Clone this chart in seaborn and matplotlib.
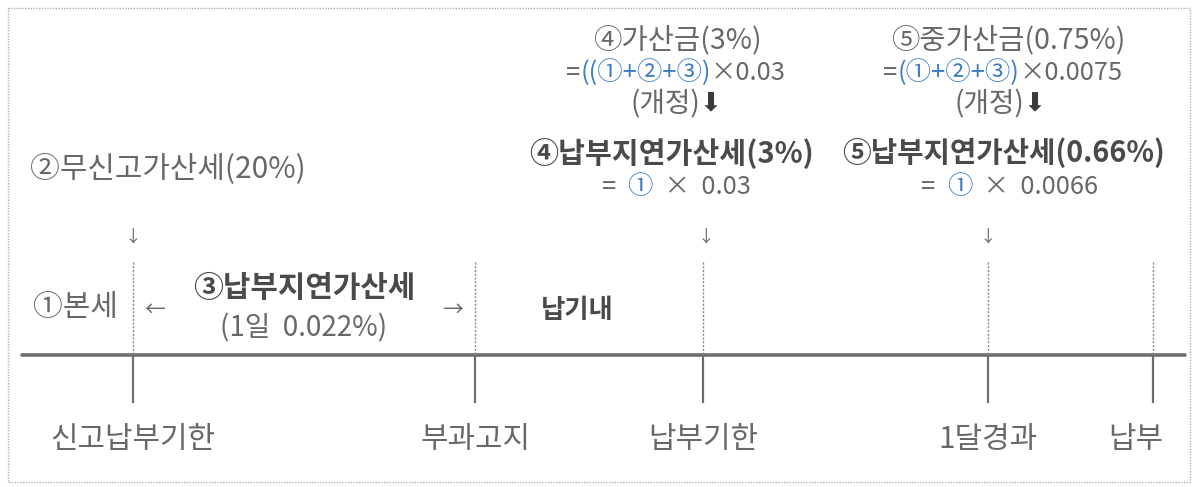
import matplotlib
matplotlib.use("Agg")
import matplotlib.pyplot as plt
import seaborn as sns
import pandas as pd
from matplotlib.patches import Rectangle

sns.set_theme(style="white")
plt.rcParams['font.family'] = ['Noto Sans CJK KR', 'DejaVu Sans']

# ---- data ----
milestone_labels = ['신고납부기한', '부과고지', '납부기한', '1달경과', '납부']
milestone_pos = [133, 475, 703, 988, 1153]
arrow_marks = [133, 706, 988]

top_left_title = '②무신고가산세(20%)'
base_tax = '①본세'
period_title = '③납부지연가산세'
period_rate = '(1일  0.022%)'
in_term = '납기내'

old4_title = '④가산금(3%)'
old4_formula = [('=', 'g'), ('((①+②+③)', 'b'), ('×0.03', 'g')]
new4_title = '④납부지연가산세(3%)'
new4_formula = [('=  ', 'g'), ('①', 'b'), ('  ×  0.03', 'g')]

old5_title = '⑤중가산금(0.75%)'
old5_formula = [('=', 'g'), ('(①+②+③)', 'b'), ('×0.0075', 'g')]
new5_title = '⑤납부지연가산세(0.66%)'
new5_formula = [('=  ', 'g'), ('①', 'b'), ('  ×  0.0066', 'g')]
revised = '(개정)'

# ---- style ----
GRAY = '#686868'
DARK = '#4a4a4a'
BLUE = '#3d7cc4'
LINE = '#6e6e6e'
col = {'g': GRAY, 'b': BLUE}

W, H = 1197, 487
fig = plt.figure(figsize=(W / 100, H / 100), dpi=100)
ax = fig.add_axes([0, 0, 1, 1])

# main timeline
line_df = pd.DataFrame({'x': [milestone_pos[0] - 111, milestone_pos[-1] + 32],
                        'y': [355, 355]})
sns.lineplot(data=line_df, x='x', y='y', ax=ax, color=LINE, lw=2.6)
ax.set_xlim(0, W)
ax.set_ylim(H, 0)
ax.axis('off')

# outer dotted frame
ax.add_patch(Rectangle((8, 8), 1182, 474, fill=False, ec='#b0b0b0',
                       lw=1.0, ls=(0, (1, 1))))

# ticks below & dotted lines above
ax.vlines(milestone_pos, 355, 403, color=LINE, lw=1.6)
ax.vlines(milestone_pos, 262, 354, color='#888888', lw=1.0, ls=(0, (1.5, 1.2)))

for x, lab in zip(milestone_pos, milestone_labels):
    xx = x if lab != '납부' else x - 17
    ax.text(xx, 440, lab, ha='center', va='center', fontsize=21.5, color=GRAY)

for x in arrow_marks:
    ax.text(x, 237, '↓', ha='center', va='center', fontsize=12, color=GRAY)

# left texts
ax.text(30, 170, top_left_title, ha='left', va='center', fontsize=21.5, color=GRAY)
ax.text(33, 307, base_tax, ha='left', va='center', fontsize=21.5, color=GRAY)
ax.text(155, 310, '←', ha='center', va='center', fontsize=15, color=GRAY)
ax.text(453, 310, '→', ha='center', va='center', fontsize=15, color=GRAY)
ax.text(304, 288, period_title, ha='center', va='center', fontsize=21.5,
        fontweight='bold', color=DARK)
ax.text(304, 328, period_rate, ha='center', va='center', fontsize=20, color=GRAY)
ax.text(577, 310, in_term, ha='center', va='center', fontsize=19,
        fontweight='bold', color=DARK)

renderer = fig.canvas.get_renderer()


def multicolor(cx, cy, pieces, fs):
    objs = []
    widths = []
    for s, c in pieces:
        t = ax.text(0, cy, s, ha='left', va='center', fontsize=fs, color=col[c])
        bb = t.get_window_extent(renderer=renderer)
        objs.append(t)
        widths.append(bb.width)
    x = cx - sum(widths) / 2
    for t, w in zip(objs, widths):
        t.set_x(x)
        x += w


def revised_line(cx, cy):
    t1 = ax.text(0, cy, revised, ha='left', va='center', fontsize=20, color=GRAY)
    w1 = t1.get_window_extent(renderer=renderer).width
    t2 = ax.text(0, cy, '⬇', ha='left', va='center', fontsize=19, color='#3a3a3a',
                 family=['DejaVu Sans'])
    w2 = t2.get_window_extent(renderer=renderer).width
    x = cx - (w1 + w2) / 2
    t1.set_x(x)
    t2.set_x(x + w1)


# block 4
ax.text(677, 40, old4_title, ha='center', va='center', fontsize=20.5, color=GRAY)
multicolor(676, 73, old4_formula, 18.3)
revised_line(676, 104)
ax.text(672, 153, new4_title, ha='center', va='center', fontsize=21,
        fontweight='bold', color=DARK)
multicolor(676, 187, new4_formula, 18.3)

# block 5
ax.text(1008, 40, old5_title, ha='center', va='center', fontsize=20.5, color=GRAY)
multicolor(1003, 73, old5_formula, 18.3)
revised_line(1000, 104)
ax.text(1004, 153, new5_title, ha='center', va='center', fontsize=20.7,
        fontweight='bold', color=DARK)
multicolor(1010, 187, new5_formula, 18.3)

fig.savefig('out.png', dpi=100)
